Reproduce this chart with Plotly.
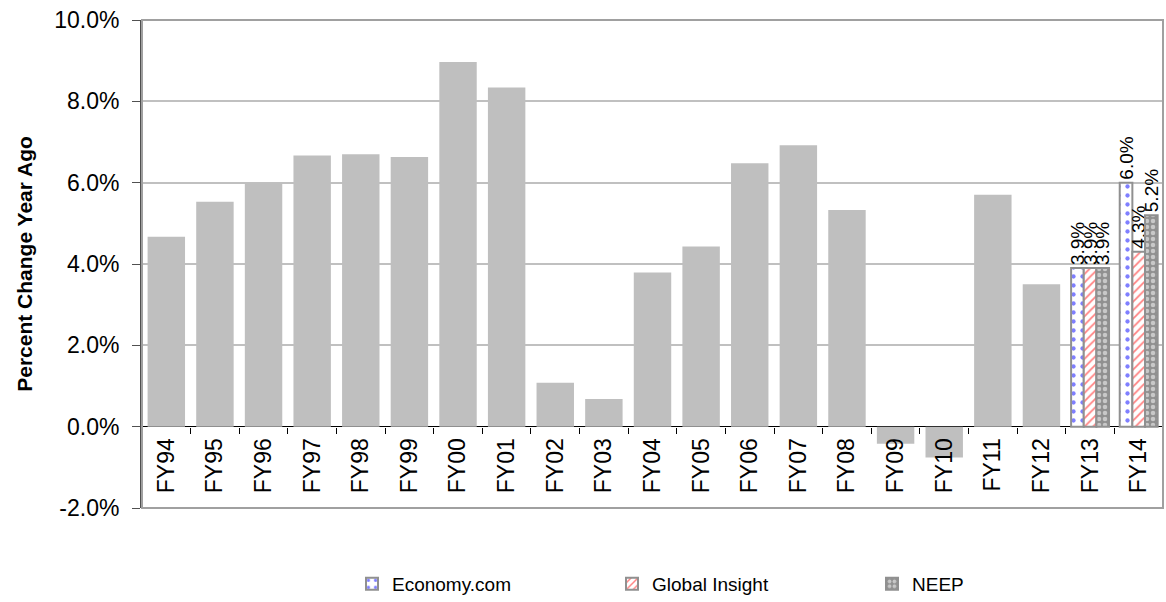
import plotly.graph_objects as go

# categories and values (percent change year ago)
years = ["FY94", "FY95", "FY96", "FY97", "FY98", "FY99", "FY00", "FY01", "FY02", "FY03",
         "FY04", "FY05", "FY06", "FY07", "FY08", "FY09", "FY10", "FY11", "FY12", "FY13", "FY14"]
history_years = years[:19]
history = [4.67, 5.53, 5.99, 6.67, 6.70, 6.63, 8.97, 8.34, 1.08, 0.68,
           3.79, 4.43, 6.48, 6.92, 5.33, -0.42, -0.76, 5.70, 3.50]
forecast_years = ["FY13", "FY14"]
economy_com = [3.9, 6.0]
global_insight = [3.9, 4.3]
neep = [3.9, 5.2]
y_ticks = [-2, 0, 2, 4, 6, 8, 10]
y_tick_text = ["-2.0%", "0.0%", "2.0%", "4.0%", "6.0%", "8.0%", "10.0%"]

FONT = "Arial, Liberation Sans, sans-serif"

fig = go.Figure()

# historical gray bars
fig.add_trace(go.Bar(
    x=history_years, y=history,
    width=0.77,
    marker=dict(color="#bfbfbf", line=dict(width=0)),
    showlegend=False, hoverinfo="skip"
))

forecasts = [
    ("Economy.com", economy_com, -0.39, "legend",
     dict(shape=".", fgcolor="#0000ff", bgcolor="white", size=9, solidity=0.18)),
    ("Global Insight", global_insight, -0.13, "legend2",
     dict(shape="/", fgcolor="#ff0000", bgcolor="white", size=6, solidity=0.3)),
    ("NEEP", neep, 0.13, "legend3",
     dict(shape=".", fgcolor="white", bgcolor="#909090", size=6, solidity=0.45)),
]
for name, vals, off, leg, pat in forecasts:
    fig.add_trace(go.Bar(
        x=forecast_years, y=vals, name=name, legend=leg,
        width=0.26, offset=off,
        marker=dict(color="white", pattern=pat, line=dict(color="#909090", width=2)),
        text=[f"{v:.1f}%" for v in vals],
        textposition="outside", textangle=-90, constraintext="none",
        textfont=dict(family=FONT, size=19, color="black"),
        cliponaxis=False,
    ))

# legends placed against the page so they do not push the plot margins
leg_style = dict(orientation="h", xref="container", yref="container",
                 y=1 - 584 / 602, xanchor="left", yanchor="middle",
                 font=dict(family=FONT, size=19), itemwidth=30, bgcolor="rgba(0,0,0,0)")

fig.update_layout(
    width=1166, height=602,
    barmode="overlay",
    paper_bgcolor="white", plot_bgcolor="white",
    margin=dict(l=142, r=3, t=20, b=94),
    font=dict(family=FONT, size=22, color="black"),
    legend=dict(x=352 / 1166, **leg_style),
    legend2=dict(x=612 / 1166, **leg_style),
    legend3=dict(x=872 / 1166, **leg_style),
    shapes=[dict(type="rect", xref="paper", yref="paper", x0=0, y0=0, x1=1, y1=1,
                 line=dict(color="#a0a0a0", width=2), layer="above")],
)

fig.update_yaxes(
    range=[-2, 10], tickvals=y_ticks, ticktext=y_tick_text,
    automargin=False,
    showgrid=True, gridcolor="#c0c0c0", gridwidth=2,
    zeroline=True, zerolinecolor="black", zerolinewidth=1,
    showline=True, linecolor="#505050", linewidth=2,
    ticks="outside", ticklen=8, tickcolor="#505050",
    ticklabelstandoff=8,
    tickfont=dict(size=23),
    title=dict(text="<b>Percent Change Year Ago</b>", font=dict(size=21), standoff=16),
)
fig.update_xaxes(
    categoryorder="array", categoryarray=years,
    range=[-0.5, 20.5], automargin=False,
    anchor="free", position=2 / 12,
    showline=False, showgrid=False,
    ticks="outside", tickson="boundaries", ticklen=6, tickcolor="black",
    ticklabelstandoff=6,
    tickangle=-90, tickfont=dict(size=23),
)

fig.write_html("out.html", config={"displayModeBar": False},
               post_script="document.body.style.margin='0';")
